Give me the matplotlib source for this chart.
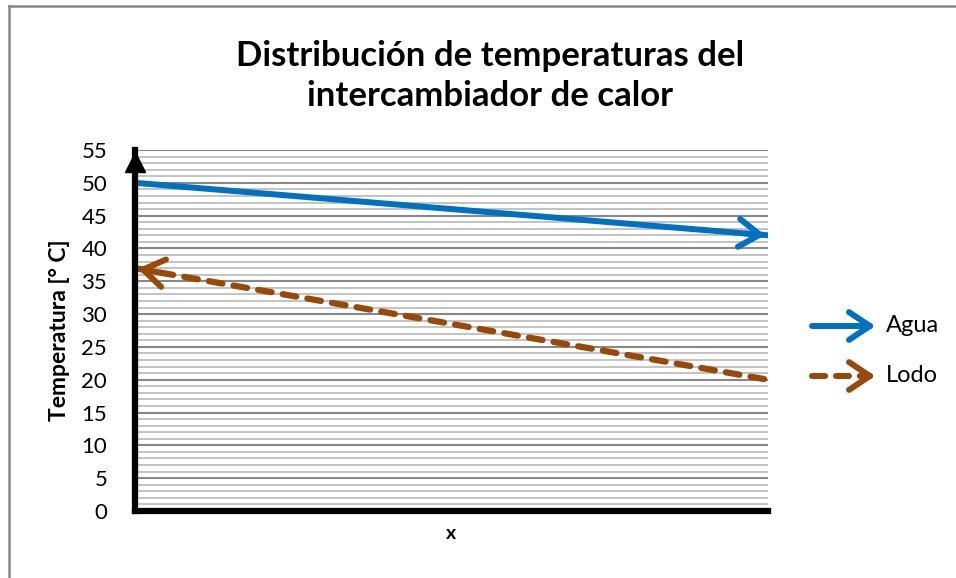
import matplotlib
matplotlib.use("Agg")
from matplotlib import pyplot as plt
from matplotlib.lines import Line2D
from matplotlib.ticker import MultipleLocator

plt.rcParams["font.family"] = ["Lato", "DejaVu Sans"]

# Data
x_pos = [0, 1]
agua = [50, 42]
lodo = [37, 20]
series_names = ["Agua", "Lodo"]
y_ticks = list(range(0, 56, 5))

blue = "#0070C0"
brown = "#984807"
dash = (0, (2.2, 1.8))

fig = plt.figure(figsize=(9.56, 5.78), dpi=100)
ax = fig.add_axes([0.1412, 0.1159, 0.8033 - 0.1412, 0.7405 - 0.1159])

ax.set_xlim(0, 1)
ax.set_ylim(0, 55)
ax.set_yticks(y_ticks)
ax.yaxis.set_minor_locator(MultipleLocator(1))
ax.set_xticks([])
ax.tick_params(axis="y", which="both", length=0, labelsize=16, pad=20)
ax.grid(axis="y", which="minor", color="#BEBEBE", lw=1.3)
ax.grid(axis="y", which="major", color="#888888", lw=1.5)
ax.set_axisbelow(True)
for s in ["top", "right"]:
    ax.spines[s].set_visible(False)
for s in ["left", "bottom"]:
    ax.spines[s].set_linewidth(4.5)
    ax.spines[s].set_color("black")

# y-axis arrow head
ax.plot([0], [53.2], marker="^", markersize=15, color="black",
        clip_on=False, zorder=5)

arrow_kw = dict(arrowstyle="->,head_length=0.75,head_width=0.5",
                lw=4.3, mutation_scale=20, capstyle="round", joinstyle="round")

# Agua
ax.plot(x_pos, agua, color=blue, lw=4.3, solid_capstyle="round")
t = 0.96
ax.annotate("", xy=(x_pos[1], agua[1]),
            xytext=(t, agua[0] + (agua[1] - agua[0]) * t),
            arrowprops=dict(color=blue, **arrow_kw))

# Lodo (flows from right to left)
ax.plot(x_pos, lodo, color=brown, lw=4.5, ls=dash,
        dash_capstyle="round", clip_on=False)
t = 0.04
ax.annotate("", xy=(x_pos[0], lodo[0]),
            xytext=(t, lodo[0] + (lodo[1] - lodo[0]) * t),
            arrowprops=dict(color=brown, **arrow_kw), annotation_clip=False)

ax.set_ylabel("Temperatura [° C]", fontsize=16.5, fontweight="bold", labelpad=8)
ax.set_xlabel("x", fontsize=14, fontweight="bold", labelpad=10)

fig.text(0.513, 0.868, "Distribución de temperaturas del\nintercambiador de calor",
         ha="center", va="center", fontsize=25, fontweight="bold", linespacing=1.32)

# legend drawn by hand
W, H = 956, 578
for i, (name, col, ls) in enumerate([(series_names[0], blue, "-"),
                                     (series_names[1], brown, dash)]):
    yy = H - (326 + 50 * i)
    fig.add_artist(Line2D([812 / W, 870 / W], [yy / H, yy / H], color=col,
                          lw=4.3, ls=ls, solid_capstyle="round",
                          dash_capstyle="round"))
    ax.annotate("", xy=(878, yy), xytext=(860, yy), xycoords="figure pixels",
                textcoords="figure pixels",
                arrowprops=dict(color=col, **arrow_kw), annotation_clip=False)
    fig.text(886 / W, yy / H, name, ha="left", va="center", fontsize=17)

# outer chart border (left and top only visible)
fig.add_artist(Line2D([9 / W, 9 / W], [0, 1 - 6 / H], color="#868686", lw=1.8))
fig.add_artist(Line2D([9 / W, 1], [1 - 6 / H, 1 - 6 / H], color="#868686", lw=1.8))

fig.savefig("out.png", dpi=100)
